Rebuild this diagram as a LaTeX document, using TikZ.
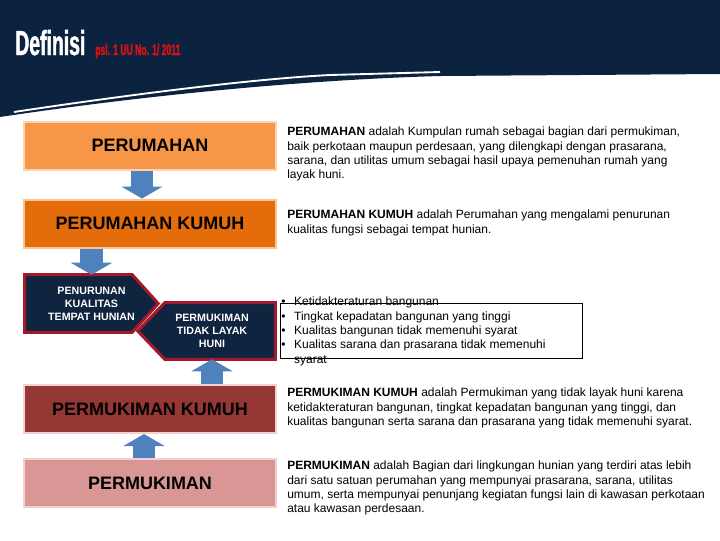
\documentclass[tikz,border=0pt]{standalone}
\usepackage{fontspec}
\setmainfont{Liberation Sans}
\newfontfamily\judulfont[FakeStretch=0.56, FakeBold=1.2]{Liberation Sans}
\usetikzlibrary{positioning}
\usetikzlibrary{arrows.meta}
\usetikzlibrary{calc}
\usetikzlibrary{backgrounds}

\definecolor{navy}{HTML}{0C2340}
\definecolor{merah}{HTML}{E01010}
\definecolor{oranye}{HTML}{F79646}
\definecolor{oranyemuda}{HTML}{FBD3AE}
\definecolor{oranyetua}{HTML}{E46C0A}
\definecolor{oranyetepi}{HTML}{F9C493}
\definecolor{marun}{HTML}{953735}
\definecolor{merahmuda}{HTML}{D99694}
\definecolor{pinktepi}{HTML}{F4CFCF}
\definecolor{birupanah}{HTML}{4F81BD}
\definecolor{tepimerah}{HTML}{A3182A}
\definecolor{isinavy}{HTML}{0F243E}

\begin{document}
\begin{tikzpicture}[ x = 0.75pt, y = -0.75pt
                   , align = center
                   , every node/.style = { inner sep = 0pt }
                   ]
  \useasboundingbox (0,0) rectangle (720,540);

  %%
  %% Header
  %%
  \fill[navy] (0,0) -- (720,0) -- (720,74) -- (440,76)
              .. controls (300,80) and (140,96) .. (0,117) -- cycle;
  \draw[white, line width=1.4pt] (14,112) .. controls (120,96) and (250,79) .. (330,75)
                                 -- (440,72);
  \node (judul) [anchor=base west, text=white,
                 font=\judulfont\bfseries\fontsize{26pt}{26pt}\selectfont] at (15,55) {Definisi};
  \node (pasal) [anchor=base west, text=merah,
                 font=\judulfont\bfseries\fontsize{11.5pt}{11.5pt}\selectfont] at (95,55) {psl. 1 UU No. 1/ 2011};

  %%
  %% Nodes
  %%
  \tikzset{ kotak/.style={ rectangle, line width=1.5pt, minimum width=189pt, minimum height=36pt
                         , font=\bfseries\fontsize{13.5pt}{16pt}\selectfont }
          , rmhbox/.style={kotak, fill=oranye, draw=oranyemuda}
          , kumuhbox/.style={kotak, fill=oranyetua, draw=oranyetepi}
          , pkumuhbox/.style={kotak, fill=marun, draw=pinktepi}
          , pkimbox/.style={kotak, fill=merahmuda, draw=pinktepi}
          , tanda/.style={ rectangle, text=white
                         , font=\bfseries\fontsize{8pt}{9.75pt}\selectfont }
          , tandaisi/.style={fill=isinavy, draw=tepimerah, line width=2.25pt, line join=miter}
          , defn/.style={ anchor=north west, align=left
                        , font=\fontsize{9pt}{10.75pt}\selectfont }
          , panah/.style={ draw=birupanah, line width=17pt
                         , -{Triangle[width=31pt, length=9pt, line width=0pt]} }
          }

  \node (rmh) [rmhbox] at (150,145.5) {PERUMAHAN};
  \node (rmhk) [kumuhbox] at (150,223.5) {PERUMAHAN KUMUH};
  \node (penurunan) [tanda, minimum width=99.75pt, minimum height=42.75pt]
        at (91.5,303.5) {PENURUNAN\\KUALITAS\\TEMPAT HUNIAN};
  \node (tidak) [tanda, minimum width=94.5pt, minimum height=42pt]
        at (212,331) {PERMUKIMAN\\TIDAK LAYAK\\HUNI};
  \node (pkumuh) [pkumuhbox] at (150,409) {PERMUKIMAN KUMUH};
  \node (pkim) [pkimbox] at (150,483) {PERMUKIMAN};

  \begin{scope}[on background layer]
    \draw[tandaisi] (penurunan.north west) -- ([xshift=-19.5pt]penurunan.north east)
                    -- (penurunan.east) -- ([xshift=-19.5pt]penurunan.south east)
                    -- (penurunan.south west) -- cycle;
    \draw[tandaisi] ([xshift=-8.25pt]tidak.west) -- ([xshift=12pt]tidak.north west)
                    -- (tidak.north east) -- (tidak.south east)
                    -- ([xshift=12pt]tidak.south west) -- cycle;
  \end{scope}

  % Definitions on the right.
  \node (defrmh) [defn] at (287,127)
        {\textbf{PERUMAHAN} adalah Kumpulan rumah sebagai bagian dari permukiman,\\
         baik perkotaan maupun perdesaan, yang dilengkapi dengan prasarana,\\
         sarana, dan utilitas umum sebagai hasil upaya pemenuhan rumah yang\\
         layak huni.};
  \node (defrmhk) [defn] at (287,210)
        {\textbf{PERUMAHAN KUMUH} adalah Perumahan yang mengalami penurunan\\
         kualitas fungsi sebagai tempat hunian.};
  \node (ciri) [draw, line width=0.6pt, minimum width=226.5pt, minimum height=41.25pt]
        at (431,330.5) {};
  \node (daftar) [defn] at (281,297)
        {\textbullet\hspace{6.5pt}Ketidakteraturan bangunan\\
         \textbullet\hspace{6.5pt}Tingkat kepadatan bangunan yang tinggi\\
         \textbullet\hspace{6.5pt}Kualitas bangunan tidak memenuhi syarat\\
         \textbullet\hspace{6.5pt}Kualitas sarana dan prasarana tidak memenuhi\\
         \hphantom{\textbullet\hspace{6.5pt}}syarat};
  \node (defpkumuh) [defn] at (287,388)
        {\textbf{PERMUKIMAN KUMUH} adalah Permukiman yang tidak layak huni karena\\
         ketidakteraturan bangunan, tingkat kepadatan bangunan yang tinggi, dan\\
         kualitas bangunan serta sarana dan prasarana yang tidak memenuhi syarat.};
  \node (defpkim) [defn] at (287,461)
        {\textbf{PERMUKIMAN} adalah Bagian dari lingkungan hunian yang terdiri atas lebih\\
         dari satu satuan perumahan yang mempunyai prasarana, sarana, utilitas\\
         umum, serta mempunyai penunjang kegiatan fungsi lain di kawasan perkotaan\\
         atau kawasan perdesaan.};

  %%
  %% Block arrows between the boxes
  %%
  \draw[panah] ([xshift=-6pt]rmh.south) -- ([xshift=-6pt]rmhk.north);
  \draw[panah] (penurunan.north |- rmhk.south) -- (penurunan.north);
  \draw[panah] (tidak.south |- pkumuh.north) -- (tidak.south);
  \draw[panah] ([xshift=-4.5pt]pkim.north) -- ([xshift=-4.5pt]pkumuh.south);
\end{tikzpicture}
\end{document}
